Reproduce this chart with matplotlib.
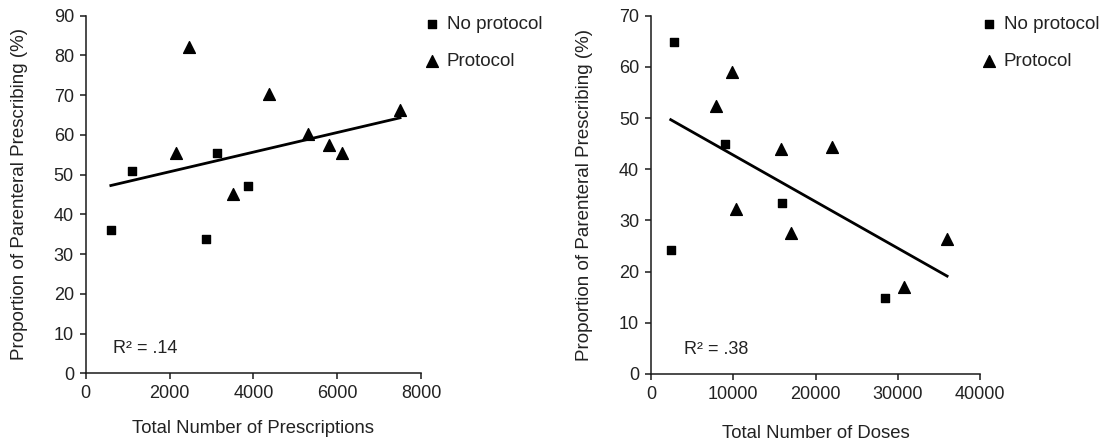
import matplotlib
matplotlib.use("Agg")
import matplotlib.pyplot as plt
import numpy as np

plt.rcParams['font.family'] = ['Liberation Sans', 'DejaVu Sans']

# left panel: total prescriptions vs % parenteral
presc_noprot_x = [600, 1100, 2860, 3130, 3870]
presc_noprot_y = [36.0, 51.0, 33.7, 55.3, 47.0]
presc_prot_x = [2150, 2470, 3520, 4380, 5310, 5815, 6110, 7500]
presc_prot_y = [55.5, 82.0, 45.2, 70.2, 60.3, 57.5, 55.3, 66.3]

# right panel: total doses vs % parenteral
dose_noprot_x = [2400, 2800, 9000, 15900, 28400]
dose_noprot_y = [24.2, 64.8, 45.0, 33.5, 14.8]
dose_prot_x = [7900, 9800, 10300, 15800, 17000, 22000, 30800, 36000]
dose_prot_y = [52.3, 59.0, 32.2, 44.0, 27.5, 44.3, 17.0, 26.4]

r2_labels = ['R² = .14', 'R² = .38']
x_labels = ['Total Number of Prescriptions', 'Total Number of Doses']
y_label = 'Proportion of Parenteral Prescribing (%)'

text_col = '#222222'
spine_col = '#1a1a1a'

fig = plt.figure(figsize=(11.06, 4.47), dpi=100)
W, H = 1106, 447
ax1 = fig.add_axes([85.7 / W, 1 - 373.3 / H, (421 - 85.7) / W, (373.3 - 15.5) / H])
ax2 = fig.add_axes([651 / W, 1 - 374 / H, (980 - 651) / W, (374 - 15.7) / H])

panels = [
    (ax1, presc_noprot_x, presc_noprot_y, presc_prot_x, presc_prot_y, (0, 8000), 2000, (0, 90), 10),
    (ax2, dose_noprot_x, dose_noprot_y, dose_prot_x, dose_prot_y, (0, 40000), 10000, (0, 70), 10),
]
# per-panel text placement (axes / figure fractions)
ylabel_x = [-0.172, -0.176]
xlabel_y = [-0.1305, -0.141]
r2_pos = [(0.0805, 0.068), (0.1003, 0.067)]
legend_x = [422.6 / W, 979.6 / W]

for i, (ax, nx, ny, px, py, xlim, xstep, ylim, ystep) in enumerate(panels):
    ax.scatter(nx, ny, marker='s', s=34, color='black', label='No protocol', zorder=3)
    ax.scatter(px, py, marker='^', s=72, color='black', label='Protocol', zorder=3)

    # least-squares trend over all sites
    allx = np.array(nx + px, dtype=float)
    ally = np.array(ny + py, dtype=float)
    m, b = np.polyfit(allx, ally, 1)
    xx = np.array([allx.min(), allx.max()])
    ax.plot(xx, m * xx + b, color='black', lw=2, zorder=2)

    ax.set_xlim(*xlim)
    ax.set_ylim(*ylim)
    ax.set_xticks(np.arange(xlim[0], xlim[1] + 1, xstep))
    ax.set_yticks(np.arange(ylim[0], ylim[1] + 1, ystep))
    for s in ['top', 'right']:
        ax.spines[s].set_visible(False)
    for s in ['left', 'bottom']:
        ax.spines[s].set_color(spine_col)
        ax.spines[s].set_linewidth(1.1)
    ax.tick_params(colors=spine_col, labelcolor=text_col, labelsize=13, length=4.5, width=1.1, pad=4)
    ax.set_xlabel(x_labels[i], fontsize=13.3, color=text_col)
    ax.set_ylabel(y_label, fontsize=13.5, color=text_col)
    ax.xaxis.set_label_coords(0.5, xlabel_y[i])
    ax.yaxis.set_label_coords(ylabel_x[i], 0.5)
    ax.text(r2_pos[i][0], r2_pos[i][1], r2_labels[i], transform=ax.transAxes,
            fontsize=13, color=text_col, va='center')
    ax.legend(loc='upper left', bbox_to_anchor=(legend_x[i], 1 - 16 / H),
              bbox_transform=fig.transFigure, frameon=False, fontsize=13.5,
              handlelength=1.0, handletextpad=0.3, labelspacing=1.06,
              borderpad=0, borderaxespad=0, labelcolor=text_col)

fig.savefig('out.png', dpi=100)
